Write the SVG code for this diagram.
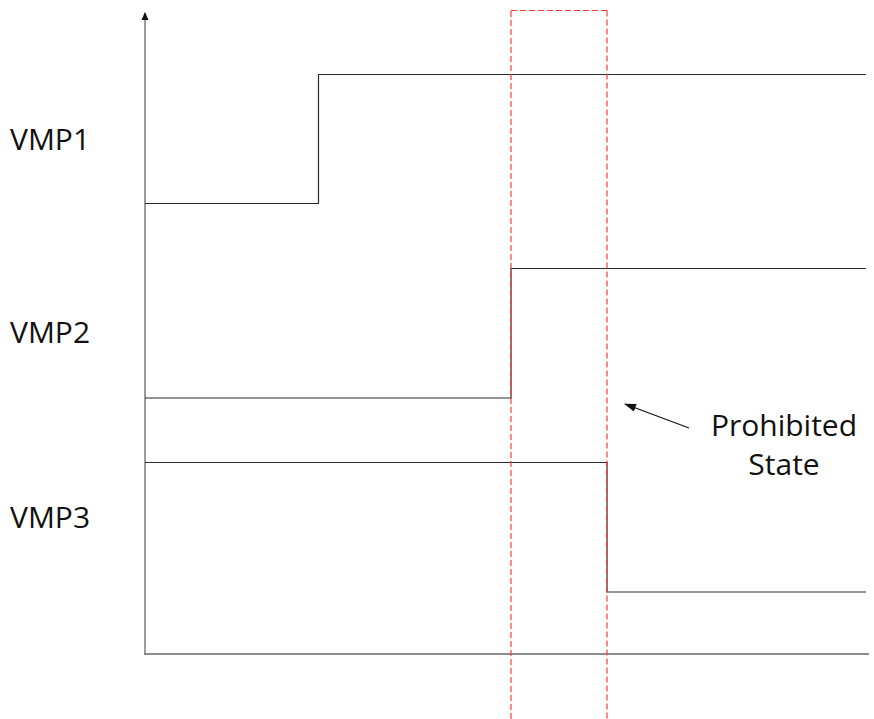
<svg xmlns="http://www.w3.org/2000/svg" width="874" height="719" viewBox="0 0 874 719">
<style>
.sig{fill:none;stroke:#2a2a2a;stroke-width:1.2}
.ax{fill:none;stroke:#666;stroke-width:1.3}
.zone{fill:none;stroke:#ff3b3b;stroke-width:1.2;stroke-dasharray:6 3}
.lbl{font-family:"Open Sans","Liberation Sans",sans-serif;font-size:30px;fill:#111}
</style>
<defs>
<marker id="ah" markerWidth="8" markerHeight="8" refX="7" refY="4" orient="auto" markerUnits="userSpaceOnUse">
<path d="M0,0.5 L8,4 L0,7.5 Z" fill="#111"/>
</marker>
<marker id="ah2" markerWidth="12" markerHeight="10" refX="11" refY="4" orient="auto" markerUnits="userSpaceOnUse">
<path d="M0,0 L12,4 L0,8 Z" fill="#111"/>
</marker>
</defs>
<g id="axes">
<line class="ax" x1="145" y1="654.6" x2="145" y2="13" marker-end="url(#ah)"/>
<line class="ax" x1="144.4" y1="654" x2="869" y2="654"/>
</g>
<g id="signals">
<g id="vmp1"><polyline class="sig" points="145,203.5 318.5,203.5 318.5,74.5 866,74.5"/></g>
<g id="vmp2"><polyline class="sig" points="145,398 511,398 511,268.5 866,268.5"/></g>
<g id="vmp3"><polyline class="sig" points="145,462.5 607,462.5 607,592 866,592"/></g>
</g>
<g id="prohibited-zone">
<line class="zone" x1="511" y1="719" x2="511" y2="10.5"/>
<line class="zone" x1="511" y1="10.5" x2="607" y2="10.5"/>
<line class="zone" x1="607" y1="10.5" x2="607" y2="719"/>
</g>
<g id="connectors">
<line x1="689" y1="428" x2="625" y2="404" stroke="#111" stroke-width="1.2" marker-end="url(#ah2)"/>
</g>
<g id="labels">
<text class="lbl" x="10" y="150">VMP1</text>
<text class="lbl" x="10" y="343">VMP2</text>
<text class="lbl" x="10" y="528">VMP3</text>
<text class="lbl" x="784" y="436" text-anchor="middle">Prohibited</text>
<text class="lbl" x="784" y="475" text-anchor="middle">State</text>
</g>
</svg>
